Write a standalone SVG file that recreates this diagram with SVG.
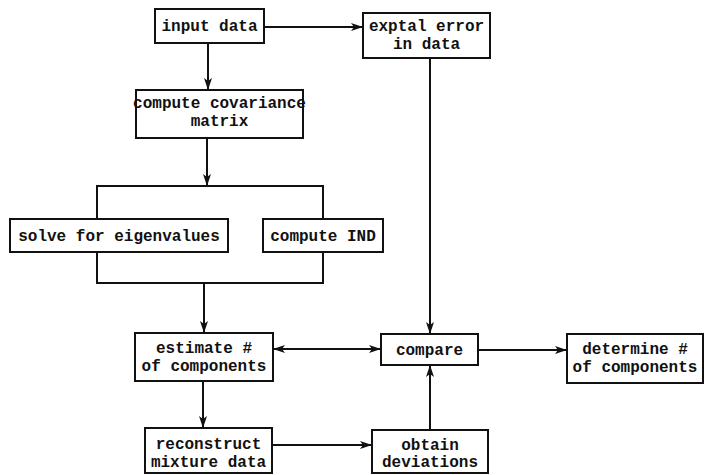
<svg xmlns="http://www.w3.org/2000/svg" width="705" height="475" viewBox="0 0 705 475">
<defs>
<marker id="ah" viewBox="0 0 12 8" refX="12" refY="4" markerWidth="12" markerHeight="8" markerUnits="userSpaceOnUse" orient="auto-start-reverse">
<path d="M0,0 L12,4 L0,8 L3,4 Z" fill="#111"/>
</marker>
<style>
.box{fill:#fff;stroke:#111;stroke-width:2}
.t{font-family:"Liberation Mono","Courier New","DejaVu Sans Mono",monospace;font-size:16px;font-weight:bold;fill:#111;text-anchor:middle}
.c{fill:none;stroke:#111;stroke-width:2}
</style>
</defs>
<rect width="705" height="475" fill="#fff"/>
<g id="connectors">
<line class="c" x1="264" y1="27" x2="363" y2="27" marker-end="url(#ah)"/>
<line class="c" x1="208" y1="43" x2="208" y2="90" marker-end="url(#ah)"/>
<line class="c" x1="207" y1="138" x2="207" y2="186" marker-end="url(#ah)"/>
<polyline class="c" points="97,219 97,186 323,186 323,219"/>
<polyline class="c" points="97,252 97,283 323,283 323,252"/>
<line class="c" x1="204" y1="283" x2="204" y2="333" marker-end="url(#ah)"/>
<line class="c" x1="273" y1="349" x2="381" y2="349" marker-start="url(#ah)" marker-end="url(#ah)"/>
<line class="c" x1="478" y1="350" x2="567" y2="350" marker-end="url(#ah)"/>
<line class="c" x1="430" y1="58" x2="430" y2="334" marker-end="url(#ah)"/>
<line class="c" x1="203" y1="381" x2="203" y2="428" marker-end="url(#ah)"/>
<line class="c" x1="272" y1="445" x2="372" y2="445" marker-end="url(#ah)"/>
<line class="c" x1="430" y1="430" x2="430" y2="365" marker-end="url(#ah)"/>
</g>
<g id="input-data">
<rect class="box" x="155" y="9" width="109" height="34"/>
<text class="t" x="209.5" y="31">input data</text>
</g>
<g id="exptal-error">
<rect class="box" x="363" y="13" width="127" height="45"/>
<text class="t" x="426.5" y="31">exptal error</text>
<text class="t" x="426.5" y="49">in data</text>
</g>
<g id="covariance">
<rect class="box" x="136" y="90" width="167" height="48"/>
<text class="t" x="219.5" y="108">compute covariance</text>
<text class="t" x="219.5" y="126">matrix</text>
</g>
<g id="eigenvalues">
<rect class="box" x="10" y="219" width="218" height="33"/>
<text class="t" x="119" y="241">solve for eigenvalues</text>
</g>
<g id="ind">
<rect class="box" x="263" y="219" width="120" height="33"/>
<text class="t" x="323" y="241">compute IND</text>
</g>
<g id="estimate">
<rect class="box" x="135" y="333" width="138" height="48"/>
<text class="t" x="204" y="353">estimate #</text>
<text class="t" x="204" y="371">of components</text>
</g>
<g id="compare">
<rect class="box" x="381" y="334" width="97" height="31"/>
<text class="t" x="429.5" y="355">compare</text>
</g>
<g id="determine">
<rect class="box" x="567" y="334" width="136" height="49"/>
<text class="t" x="635" y="354">determine #</text>
<text class="t" x="635" y="372">of components</text>
</g>
<g id="reconstruct">
<rect class="box" x="145" y="428" width="127" height="45"/>
<text class="t" x="208.5" y="449">reconstruct</text>
<text class="t" x="208.5" y="467">mixture data</text>
</g>
<g id="obtain">
<rect class="box" x="372" y="430" width="116" height="43"/>
<text class="t" x="430" y="450">obtain</text>
<text class="t" x="430" y="467">deviations</text>
</g>
</svg>
